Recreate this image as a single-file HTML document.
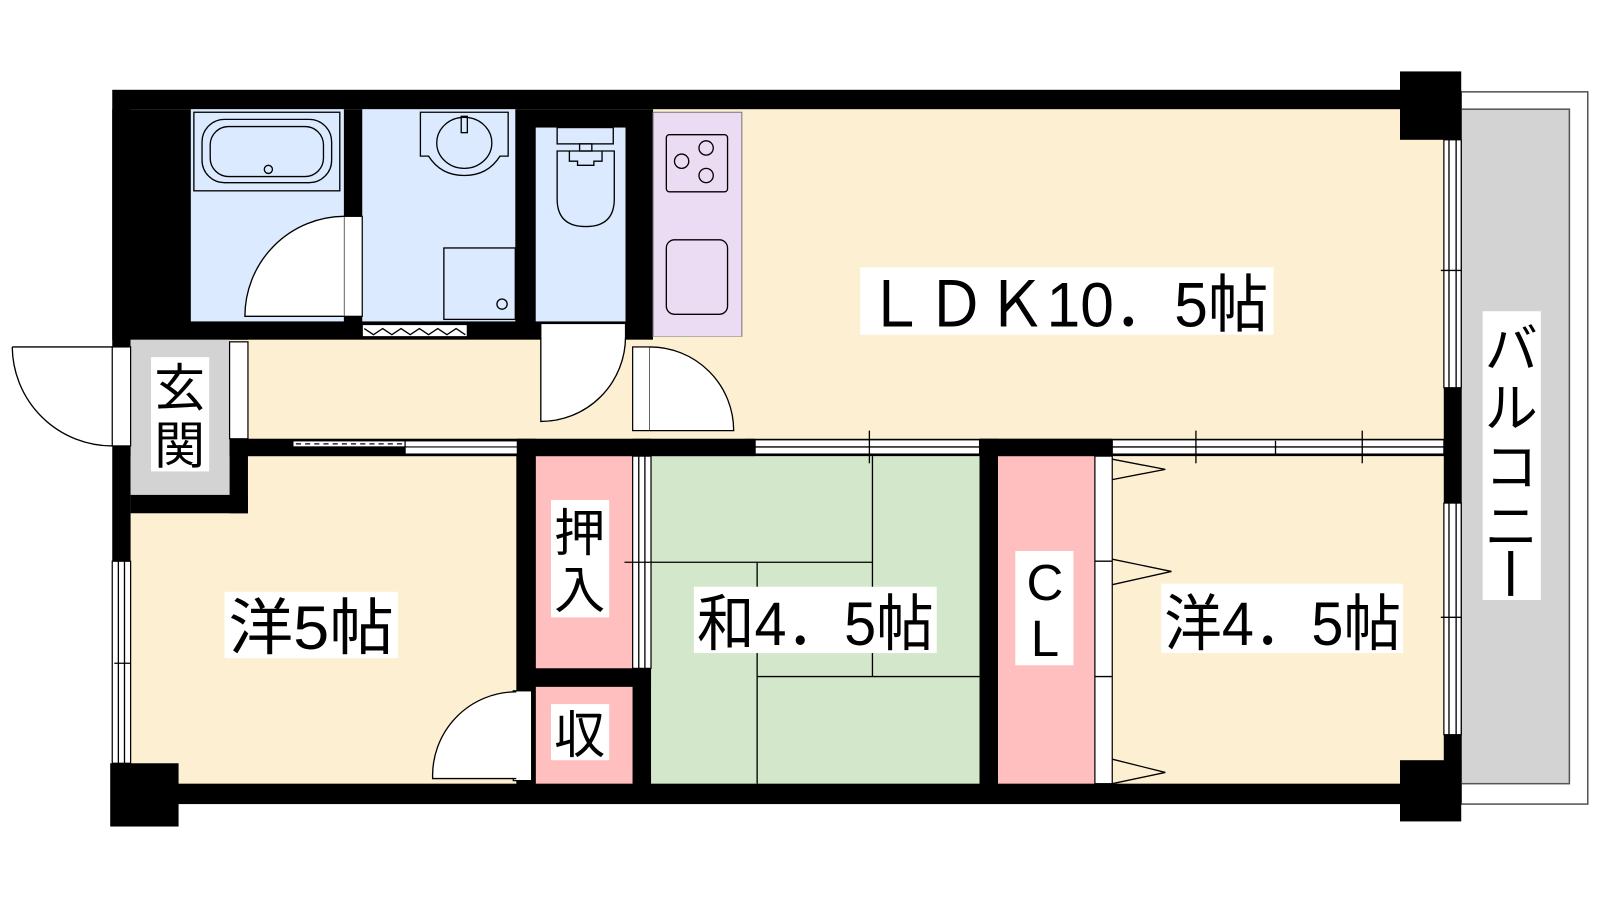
<!DOCTYPE html>
<html><head><meta charset="utf-8"><style>
html,body{margin:0;padding:0;background:#fff;width:1600px;height:900px;overflow:hidden}
svg{display:block}
text{font-family:"Liberation Sans","Noto Sans CJK JP",sans-serif;fill:#000}
</style></head><body>
<svg width="1600" height="900" viewBox="0 0 1568 882" xmlns="http://www.w3.org/2000/svg">
<rect width="1568" height="882" fill="#fff"/>
<rect x="1432" y="90" width="124" height="698" fill="#fff" stroke="#555" stroke-width="1.5"/>
<rect x="1432" y="107" width="106" height="661" fill="#d3d3d3" stroke="#555" stroke-width="1.5"/>
<rect x="110" y="88" width="1322" height="700" fill="#000"/>
<rect x="128" y="107" width="1287" height="323" fill="#fdf0d2"/>
<rect x="128" y="447" width="378" height="321" fill="#fdf0d2"/>
<rect x="1090" y="447" width="325" height="321" fill="#fdf0d2"/>
<rect x="638" y="447" width="322" height="321" fill="#d3e7cb"/>
<rect x="525" y="447" width="95" height="208" fill="#ffbfbf"/>
<rect x="525" y="673" width="95" height="95" fill="#ffbfbf"/>
<rect x="978" y="447" width="95" height="321" fill="#ffbfbf"/>
<rect x="110" y="107" width="530" height="226" fill="#000"/>
<rect x="187" y="107" width="150" height="208" fill="#dbeafe"/>
<rect x="355" y="107" width="150" height="208" fill="#dbeafe"/>
<rect x="525" y="125" width="88" height="190" fill="#dbeafe"/>
<rect x="640" y="110" width="87" height="220" fill="#ecdcf3" stroke="#777" stroke-width="1"/>
<rect x="128" y="333" width="97" height="152" fill="#d3d3d3"/>
<rect x="225" y="430" width="18" height="73" fill="#000"/>
<rect x="128" y="485" width="115" height="18" fill="#000"/>
<rect x="243" y="333" width="397" height="97" fill="#fdf0d2"/>
<rect x="640" y="330" width="90" height="100" fill="#fdf0d2"/>
<rect x="225" y="430" width="515" height="17" fill="#000"/>
<rect x="507" y="430" width="18" height="338" fill="#000"/>
<rect x="507" y="655" width="131" height="18" fill="#000"/>
<rect x="620" y="655" width="18" height="113" fill="#000"/>
<rect x="620" y="430" width="18" height="17" fill="#000"/>
<rect x="960" y="430" width="130" height="17" fill="#000"/>
<rect x="960" y="430" width="18" height="338" fill="#000"/>
<rect x="1415" y="107" width="17" height="661" fill="#000"/>
<rect x="1372" y="70" width="60" height="67" fill="#000"/>
<rect x="1372" y="745" width="60" height="60" fill="#000"/>
<rect x="108" y="748" width="67" height="62" fill="#000"/>
<g fill="#fff" stroke="#000" stroke-width="1.2">
<rect x="287" y="432" width="110" height="6"/><rect x="397" y="432" width="110" height="13"/>
<line x1="397" y1="438" x2="507" y2="438"/>
<rect x="740" y="431" width="220" height="14"/>
<rect x="1090" y="431" width="325" height="14"/>
<rect x="620" y="447" width="18" height="208"/>
<rect x="1073" y="447" width="17" height="321"/>
<rect x="1415" y="137" width="17" height="243"/>
<rect x="1415" y="493" width="17" height="227"/>
<rect x="110" y="550" width="18" height="198"/>
<rect x="110" y="340" width="18" height="97"/>
<rect x="225" y="335" width="18" height="95"/>
<rect x="530" y="317" width="83" height="14"/>
<rect x="620" y="340" width="17" height="82"/>
<rect x="337" y="212" width="18" height="98"/>
<rect x="355" y="318" width="103" height="12"/>
<rect x="503" y="677" width="18" height="88"/>
</g>
<g fill="none" stroke="#000" stroke-width="1.3">
<line x1="1420" y1="137" x2="1420" y2="380"/><line x1="1427" y1="137" x2="1427" y2="380"/>
<line x1="1420" y1="493" x2="1420" y2="720"/><line x1="1427" y1="493" x2="1427" y2="720"/>
<line x1="116" y1="550" x2="116" y2="748"/><line x1="122" y1="550" x2="122" y2="748"/>
<line x1="740" y1="438" x2="960" y2="438"/><line x1="1090" y1="438" x2="1415" y2="438"/>
<line x1="852" y1="422" x2="852" y2="454"/><line x1="1172" y1="422" x2="1172" y2="454"/><line x1="1335" y1="422" x2="1335" y2="454"/>
<line x1="1250" y1="432" x2="1250" y2="446"/>
<line x1="626" y1="447" x2="626" y2="655"/><line x1="632" y1="447" x2="632" y2="655"/>
<line x1="612" y1="551" x2="638" y2="551"/>
<line x1="112" y1="650" x2="128" y2="650"/><line x1="1412" y1="605" x2="1432" y2="605"/><line x1="1412" y1="265" x2="1432" y2="265"/>
<line x1="290" y1="435" x2="395" y2="435" stroke-dasharray="5,4"/>
<line x1="638" y1="551" x2="855" y2="551"/><line x1="855" y1="447" x2="855" y2="663"/>
<line x1="742" y1="551" x2="742" y2="768"/><line x1="742" y1="663" x2="960" y2="663"/>
<line x1="1073" y1="550" x2="1090" y2="550"/><line x1="1073" y1="663" x2="1090" y2="663"/>
<polyline points="1090,450 1142,460 1090,470"/>
<polyline points="1090,548 1148,560 1090,573"/>
<polyline points="1090,744 1142,757 1090,768"/>
<path d="M12,340 A98,98 0 0 0 110,437 M12,340 L110,340" />
<path d="M337,212 A98,98 0 0 0 240,310 L337,310" fill="#fff"/>
<path d="M613,330 A83,83 0 0 1 530,413 L530,330" fill="#fff"/>
<path d="M637,340 A82,82 0 0 1 719,422 L637,422" fill="#fff"/>
<path d="M506,678 A82,82 0 0 0 424,763 L506,763" fill="#fff"/>
<polyline points="357,322 366,328 375,322 384,328 393,322 402,328 411,322 420,328 429,322 438,328 447,322 456,328"/>
<rect x="190" y="110" width="143" height="77" fill="#dbeafe"/>
<rect x="198" y="117" width="127" height="62" rx="22"/>
<rect x="206" y="124" width="111" height="49" rx="18"/>
<circle cx="263" cy="166" r="4"/>
<path d="M412,110 L498,110 L498,153 L490,153 Q478,172 455,172 Q432,172 420,153 L412,153 Z"/>
<ellipse cx="455" cy="140" rx="27" ry="25"/>
<rect x="452" y="114" width="6" height="16"/>
<rect x="435" y="243" width="70" height="70"/>
<circle cx="492" cy="298" r="5"/>
<rect x="546" y="125" width="55" height="16"/>
<rect x="568" y="141" width="12" height="7"/>
<path d="M546,148 L602,148 L602,195 Q602,222 574,222 Q546,222 546,195 Z"/>
<path d="M558,148 L558,158 L566,158 L566,162 L582,162 L582,158 L590,158 L590,148"/>
<rect x="653" y="132" width="60" height="56" rx="3"/>
<circle cx="668" cy="158" r="7"/><circle cx="692" cy="145" r="7"/><circle cx="692" cy="172" r="7"/>
<rect x="653" y="235" width="60" height="73" rx="8"/>
</g>
<rect x="843" y="262" width="405" height="66" fill="#fff"/>
<text x="848" y="320" font-size="62" textLength="395" lengthAdjust="spacingAndGlyphs">ＬＤＫ10．5帖</text>
<rect x="1453" y="305" width="57" height="283" fill="#fff"/>
<text font-size="52" x="1481" y="360" text-anchor="middle">バ</text>
<text font-size="52" x="1481" y="418" text-anchor="middle">ル</text>
<text font-size="52" x="1481" y="476" text-anchor="middle">コ</text>
<text font-size="52" x="1481" y="534" text-anchor="middle">ニ</text>
<rect x="1478" y="540" width="5" height="44" fill="#000"/>
<rect x="148" y="350" width="57" height="112" fill="#fff"/>
<text font-size="50" x="176" y="398" text-anchor="middle">玄</text>
<text font-size="50" x="176" y="454" text-anchor="middle">関</text>
<rect x="220" y="580" width="170" height="65" fill="#fff"/>
<text x="224" y="636" font-size="60" textLength="162" lengthAdjust="spacingAndGlyphs">洋5帖</text>
<rect x="540" y="490" width="57" height="115" fill="#fff"/>
<text font-size="50" x="568" y="540" text-anchor="middle">押</text>
<text font-size="50" x="568" y="596" text-anchor="middle">入</text>
<rect x="540" y="690" width="57" height="55" fill="#fff"/>
<text font-size="50" x="568" y="738" text-anchor="middle">収</text>
<rect x="680" y="575" width="238" height="65" fill="#fff"/>
<text x="683" y="632" font-size="60" textLength="232" lengthAdjust="spacingAndGlyphs">和4．5帖</text>
<rect x="995" y="540" width="57" height="112" fill="#fff"/>
<text font-size="50" x="1024" y="588" text-anchor="middle">C</text>
<text font-size="50" x="1024" y="643" text-anchor="middle">L</text>
<rect x="1138" y="572" width="237" height="68" fill="#fff"/>
<text x="1141" y="632" font-size="60" textLength="232" lengthAdjust="spacingAndGlyphs">洋4．5帖</text>
</svg>
</body></html>
